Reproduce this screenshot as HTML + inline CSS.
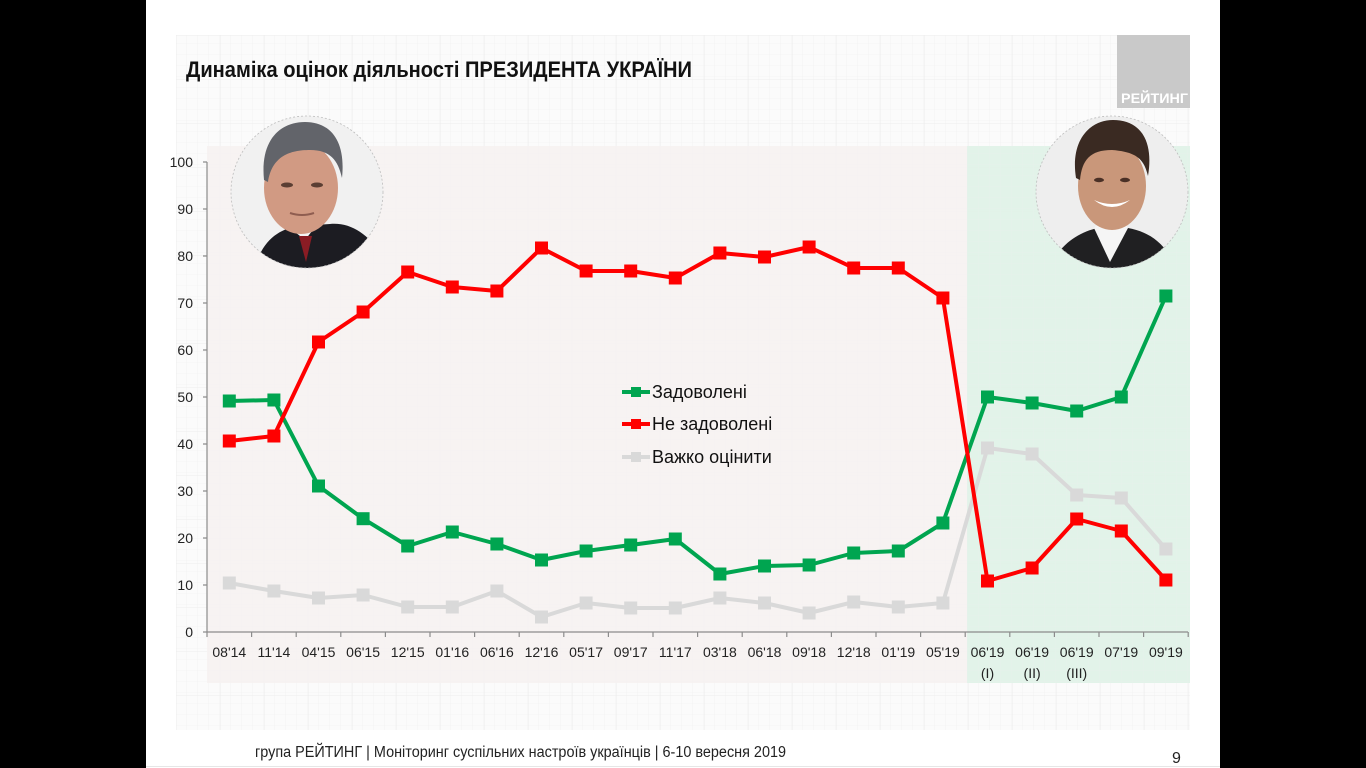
<!DOCTYPE html>
<html>
<head>
<meta charset="utf-8">
<style>
html,body{margin:0;padding:0;background:#000;}
body{width:1366px;height:768px;overflow:hidden;}
svg{display:block;}
text{font-family:"Liberation Sans","DejaVu Sans",sans-serif;}
</style>
</head>
<body>
<svg width="1366" height="768" viewBox="0 0 1366 768" xmlns="http://www.w3.org/2000/svg">
  <defs>
    <pattern id="fine" width="11" height="11" patternUnits="userSpaceOnUse">
      <path d="M11 0 V11 M0 11 H11" stroke="#efefef" stroke-width="0.6" fill="none"/>
    </pattern>
    <pattern id="major" width="44" height="44" patternUnits="userSpaceOnUse" x="176" y="35">
      <path d="M0 0 V44 M0 0 H44" stroke="#e9e9e9" stroke-width="0.7" fill="none"/>
    </pattern>
    <clipPath id="c1"><circle cx="307" cy="192" r="76"/></clipPath>
    <clipPath id="c2"><circle cx="1112" cy="192" r="76"/></clipPath>
  </defs>

  <!-- slide -->
  <rect x="0" y="0" width="1366" height="768" fill="#000"/>
  <rect x="146" y="0" width="1074" height="768" fill="#ffffff"/>

  <!-- grid paper -->
  <rect x="176" y="35" width="1014" height="695" fill="#fbfbfb"/>
  <rect x="176" y="35" width="1014" height="695" fill="url(#fine)"/>
  <rect x="176" y="35" width="1014" height="695" fill="url(#major)"/>

  <!-- plot bg zones -->
  <rect x="207" y="146" width="760" height="537" fill="#f7f2f1" opacity="0.94"/>
  <rect x="967" y="146" width="223" height="537" fill="#e0f2e8" opacity="0.95"/>
  <rect x="207" y="146" width="983" height="537" fill="url(#fine)" opacity="0.5"/>

  <!-- logo -->
  <rect x="1117" y="35" width="73" height="73" fill="#c9c9c9"/>
  <text x="1121" y="103" font-size="14" font-weight="bold" fill="#ffffff" textLength="67" lengthAdjust="spacingAndGlyphs">РЕЙТИНГ</text>

  <!-- title -->
  <text x="186" y="77" font-size="22" font-weight="bold" fill="#111" textLength="506" lengthAdjust="spacingAndGlyphs">Динаміка оцінок діяльності ПРЕЗИДЕНТА УКРАЇНИ</text>

  <!-- Poroshenko portrait -->
  <g clip-path="url(#c1)">
    <rect x="231" y="116" width="152" height="152" fill="#f1f1f1"/>
    <path d="M255 268 C262 240 280 228 300 226 L330 224 C352 222 372 236 385 262 L385 268 Z" fill="#1c1c22"/>
    <path d="M290 228 L305 240 L316 226 Z" fill="#f4f4f4"/>
    <path d="M299 236 L306 262 L312 236 Z" fill="#8a1c24"/>
    <ellipse cx="301" cy="188" rx="37" ry="46" fill="#d19a83"/>
    <path d="M264 180 C260 140 280 122 305 122 C330 122 346 140 342 178 C338 160 330 150 310 150 C290 150 272 156 268 182 Z" fill="#62646a"/>
    <ellipse cx="287" cy="185" rx="6" ry="2.5" fill="#5b3e33"/>
    <ellipse cx="317" cy="185" rx="6" ry="2.5" fill="#5b3e33"/>
    <path d="M290 213 Q302 217 314 213" stroke="#8f5d50" stroke-width="2" fill="none"/>
  </g>
  <circle cx="307" cy="192" r="76" fill="none" stroke="#bdbdbd" stroke-width="0.8" stroke-dasharray="2 2"/>

  <!-- Zelensky portrait -->
  <g clip-path="url(#c2)">
    <rect x="1036" y="116" width="152" height="152" fill="#eeeeee"/>
    <path d="M1050 268 C1058 246 1078 232 1098 228 L1128 228 C1150 232 1166 244 1176 268 Z" fill="#202022"/>
    <path d="M1094 228 L1110 262 L1128 228 L1122 220 L1100 220 Z" fill="#f5f5f5"/>
    <ellipse cx="1112" cy="186" rx="34" ry="44" fill="#c9977a"/>
    <path d="M1076 178 C1070 140 1090 120 1113 120 C1140 120 1154 140 1148 176 C1144 160 1138 152 1112 150 C1090 150 1082 160 1080 180 Z" fill="#3a2a22"/>
    <path d="M1094 200 Q1112 214 1130 200 Q1112 208 1094 200 Z" fill="#ffffff"/>
    <ellipse cx="1099" cy="180" rx="5" ry="2.2" fill="#4a3026"/>
    <ellipse cx="1125" cy="180" rx="5" ry="2.2" fill="#4a3026"/>
  </g>
  <circle cx="1112" cy="192" r="76" fill="none" stroke="#bdbdbd" stroke-width="0.8" stroke-dasharray="2 2"/>

  <!-- axes -->
  <g stroke="#8c8c8c" stroke-width="1.2" fill="none">
    <line x1="207" y1="162" x2="207" y2="632"/>
    <line x1="207" y1="632" x2="1188" y2="632"/>
    <path d="M203 162H207 M203 209H207 M203 256H207 M203 303H207 M203 350H207 M203 397H207 M203 444H207 M203 491H207 M203 538H207 M203 585H207 M203 632H207"/>
    <path d="M207 632V637 M251.6 632V637 M296.2 632V637 M340.8 632V637 M385.4 632V637 M430 632V637 M474.6 632V637 M519.2 632V637 M563.8 632V637 M608.4 632V637 M653 632V637 M697.6 632V637 M742.2 632V637 M786.8 632V637 M831.4 632V637 M876 632V637 M920.6 632V637 M965.2 632V637 M1009.8 632V637 M1054.4 632V637 M1099 632V637 M1143.6 632V637 M1188.2 632V637"/>
  </g>

  <!-- y labels -->
  <g font-size="14" fill="#222" text-anchor="end">
    <text x="193" y="167">100</text>
    <text x="193" y="214">90</text>
    <text x="193" y="261">80</text>
    <text x="193" y="308">70</text>
    <text x="193" y="355">60</text>
    <text x="193" y="402">50</text>
    <text x="193" y="449">40</text>
    <text x="193" y="496">30</text>
    <text x="193" y="543">20</text>
    <text x="193" y="590">10</text>
    <text x="193" y="637">0</text>
  </g>

  <!-- x labels -->
  <g font-size="14" fill="#222" text-anchor="middle">
    <text x="229.3" y="657">08'14</text>
    <text x="273.9" y="657">11'14</text>
    <text x="318.5" y="657">04'15</text>
    <text x="363.1" y="657">06'15</text>
    <text x="407.7" y="657">12'15</text>
    <text x="452.3" y="657">01'16</text>
    <text x="496.9" y="657">06'16</text>
    <text x="541.5" y="657">12'16</text>
    <text x="586.1" y="657">05'17</text>
    <text x="630.7" y="657">09'17</text>
    <text x="675.3" y="657">11'17</text>
    <text x="719.9" y="657">03'18</text>
    <text x="764.5" y="657">06'18</text>
    <text x="809.1" y="657">09'18</text>
    <text x="853.7" y="657">12'18</text>
    <text x="898.3" y="657">01'19</text>
    <text x="942.9" y="657">05'19</text>
    <text x="987.5" y="657">06'19</text>
    <text x="1032.1" y="657">06'19</text>
    <text x="1076.7" y="657">06'19</text>
    <text x="1121.3" y="657">07'19</text>
    <text x="1165.9" y="657">09'19</text>
    <text x="987.5" y="678">(I)</text>
    <text x="1032.1" y="678">(II)</text>
    <text x="1076.7" y="678">(III)</text>
  </g>

  <!-- series: gray -->
  <g stroke-linejoin="round">
    <polyline fill="none" stroke="#d9d9d9" stroke-width="4" points="229.3,583 273.9,591 318.5,598 363.1,595 407.7,607 452.3,607 496.9,591 541.5,617 586.1,603 630.7,608 675.3,608 719.9,598 764.5,603 809.1,613 853.7,602 898.3,607 942.9,603 987.5,448 1032.1,454 1076.7,495 1121.3,498 1165.9,549"/>
    <g fill="#d9d9d9">
      <rect x="222.8" y="576.5" width="13" height="13"/>
      <rect x="267.4" y="584.5" width="13" height="13"/>
      <rect x="312" y="591.5" width="13" height="13"/>
      <rect x="356.6" y="588.5" width="13" height="13"/>
      <rect x="401.2" y="600.5" width="13" height="13"/>
      <rect x="445.8" y="600.5" width="13" height="13"/>
      <rect x="490.4" y="584.5" width="13" height="13"/>
      <rect x="535" y="610.5" width="13" height="13"/>
      <rect x="579.6" y="596.5" width="13" height="13"/>
      <rect x="624.2" y="601.5" width="13" height="13"/>
      <rect x="668.8" y="601.5" width="13" height="13"/>
      <rect x="713.4" y="591.5" width="13" height="13"/>
      <rect x="758" y="596.5" width="13" height="13"/>
      <rect x="802.6" y="606.5" width="13" height="13"/>
      <rect x="847.2" y="595.5" width="13" height="13"/>
      <rect x="891.8" y="600.5" width="13" height="13"/>
      <rect x="936.4" y="596.5" width="13" height="13"/>
      <rect x="981" y="441.5" width="13" height="13"/>
      <rect x="1025.6" y="447.5" width="13" height="13"/>
      <rect x="1070.2" y="488.5" width="13" height="13"/>
      <rect x="1114.8" y="491.5" width="13" height="13"/>
      <rect x="1159.4" y="542.5" width="13" height="13"/>
    </g>
  </g>

  <!-- series: green -->
  <g stroke-linejoin="round">
    <polyline fill="none" stroke="#00a550" stroke-width="4" points="229.3,401 273.9,400 318.5,486 363.1,518.7 407.7,546 452.3,532 496.9,544 541.5,560 586.1,551 630.7,545 675.3,539 719.9,574 764.5,566 809.1,565 853.7,553 898.3,551 942.9,523 987.5,397 1032.1,403 1076.7,411 1121.3,397 1165.9,296"/>
    <g fill="#00a550">
      <rect x="222.8" y="394.5" width="13" height="13"/>
      <rect x="267.4" y="393.5" width="13" height="13"/>
      <rect x="312" y="479.5" width="13" height="13"/>
      <rect x="356.6" y="512.2" width="13" height="13"/>
      <rect x="401.2" y="539.5" width="13" height="13"/>
      <rect x="445.8" y="525.5" width="13" height="13"/>
      <rect x="490.4" y="537.5" width="13" height="13"/>
      <rect x="535" y="553.5" width="13" height="13"/>
      <rect x="579.6" y="544.5" width="13" height="13"/>
      <rect x="624.2" y="538.5" width="13" height="13"/>
      <rect x="668.8" y="532.5" width="13" height="13"/>
      <rect x="713.4" y="567.5" width="13" height="13"/>
      <rect x="758" y="559.5" width="13" height="13"/>
      <rect x="802.6" y="558.5" width="13" height="13"/>
      <rect x="847.2" y="546.5" width="13" height="13"/>
      <rect x="891.8" y="544.5" width="13" height="13"/>
      <rect x="936.4" y="516.5" width="13" height="13"/>
      <rect x="981" y="390.5" width="13" height="13"/>
      <rect x="1025.6" y="396.5" width="13" height="13"/>
      <rect x="1070.2" y="404.5" width="13" height="13"/>
      <rect x="1114.8" y="390.5" width="13" height="13"/>
      <rect x="1159.4" y="289.5" width="13" height="13"/>
    </g>
  </g>

  <!-- series: red -->
  <g stroke-linejoin="round">
    <polyline fill="none" stroke="#ff0000" stroke-width="4" points="229.3,441 273.9,436 318.5,342 363.1,312 407.7,272 452.3,287 496.9,291 541.5,248 586.1,271 630.7,271 675.3,278 719.9,253 764.5,257 809.1,247 853.7,268 898.3,268 942.9,298 987.5,581 1032.1,568 1076.7,519 1121.3,531 1165.9,580"/>
    <g fill="#ff0000">
      <rect x="222.8" y="434.5" width="13" height="13"/>
      <rect x="267.4" y="429.5" width="13" height="13"/>
      <rect x="312" y="335.5" width="13" height="13"/>
      <rect x="356.6" y="305.5" width="13" height="13"/>
      <rect x="401.2" y="265.5" width="13" height="13"/>
      <rect x="445.8" y="280.5" width="13" height="13"/>
      <rect x="490.4" y="284.5" width="13" height="13"/>
      <rect x="535" y="241.5" width="13" height="13"/>
      <rect x="579.6" y="264.5" width="13" height="13"/>
      <rect x="624.2" y="264.5" width="13" height="13"/>
      <rect x="668.8" y="271.5" width="13" height="13"/>
      <rect x="713.4" y="246.5" width="13" height="13"/>
      <rect x="758" y="250.5" width="13" height="13"/>
      <rect x="802.6" y="240.5" width="13" height="13"/>
      <rect x="847.2" y="261.5" width="13" height="13"/>
      <rect x="891.8" y="261.5" width="13" height="13"/>
      <rect x="936.4" y="291.5" width="13" height="13"/>
      <rect x="981" y="574.5" width="13" height="13"/>
      <rect x="1025.6" y="561.5" width="13" height="13"/>
      <rect x="1070.2" y="512.5" width="13" height="13"/>
      <rect x="1114.8" y="524.5" width="13" height="13"/>
      <rect x="1159.4" y="573.5" width="13" height="13"/>
    </g>
  </g>

  <!-- legend -->
  <g>
    <line x1="622" y1="392" x2="650" y2="392" stroke="#00a550" stroke-width="4"/>
    <rect x="631" y="387" width="10" height="10" fill="#00a550"/>
    <text x="652" y="398" font-size="18" fill="#111">Задоволені</text>
    <line x1="622" y1="424" x2="650" y2="424" stroke="#ff0000" stroke-width="4"/>
    <rect x="631" y="419" width="10" height="10" fill="#ff0000"/>
    <text x="652" y="430" font-size="18" fill="#111">Не задоволені</text>
    <line x1="622" y1="457" x2="650" y2="457" stroke="#d9d9d9" stroke-width="4"/>
    <rect x="631" y="452" width="10" height="10" fill="#d9d9d9"/>
    <text x="652" y="463" font-size="18" fill="#111">Важко оцінити</text>
  </g>

  <!-- footer -->
  <text x="255" y="757" font-size="15.5" fill="#222" textLength="531" lengthAdjust="spacingAndGlyphs">група РЕЙТИНГ | Моніторинг суспільних настроїв українців | 6-10 вересня 2019</text>
  <text x="1172" y="763" font-size="16" fill="#222">9</text>
  <line x1="146" y1="766.5" x2="1220" y2="766.5" stroke="#e6e6e6" stroke-width="1"/>
</svg>
</body>
</html>
